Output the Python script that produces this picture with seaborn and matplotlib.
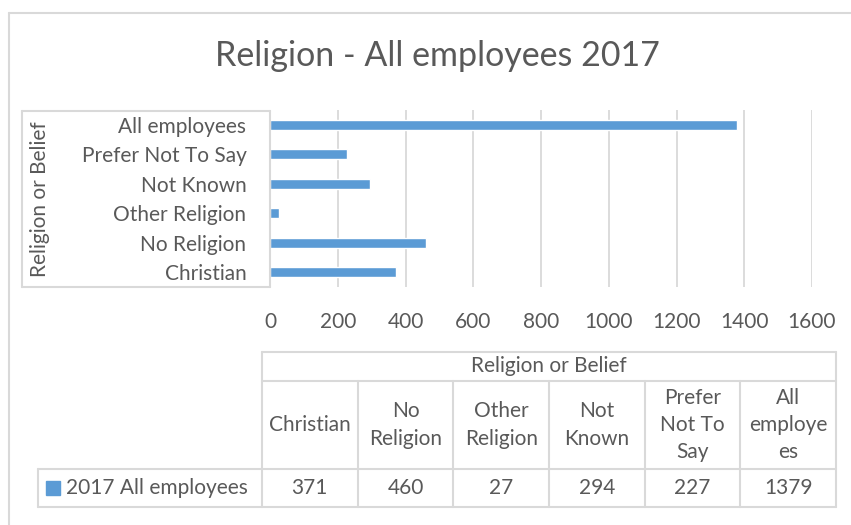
import matplotlib
matplotlib.use("Agg")
from matplotlib import pyplot as plt
from matplotlib.lines import Line2D
import seaborn as sns

# data, in the order of the data table
categories = ["Christian", "No Religion", "Other Religion", "Not Known",
              "Prefer Not To Say", "All employees"]
values = [371, 460, 27, 294, 227, 1379]
table_headers = ["Christian", "No\nReligion", "Other\nReligion", "Not\nKnown",
                 "Prefer\nNot To\nSay", "All\nemploye\nes"]
series_name = "2017 All employees"
x_ticks = [0, 200, 400, 600, 800, 1000, 1200, 1400, 1600]

sns.set_style("white")
plt.rcParams['font.family'] = ['Lato', 'DejaVu Sans']

W, H = 851, 525
bar_col = "#5B9BD5"
txt_col = "#595959"
line_col = "#D9D9D9"

fig = plt.figure(figsize=(W / 100, H / 100), dpi=100)


def fx(x):
    return x / W


def fy(y):
    return 1 - y / H


def hline(x0, x1, y, lw=1.5):
    fig.add_artist(Line2D([fx(x0), fx(x1)], [fy(y), fy(y)], color=line_col, lw=lw))


def vline(x, y0, y1, lw=1.5):
    fig.add_artist(Line2D([fx(x), fx(x)], [fy(y0), fy(y1)], color=line_col, lw=lw))


# plot area
px0, px1, py0, py1 = 270, 812, 110, 287
ax = fig.add_axes([fx(px0), fy(py1), fx(px1) - fx(px0), (py1 - py0) / H])

order = categories[::-1]
sns.barplot(x=values, y=categories, order=order, orient="h", color=bar_col,
            width=0.34, saturation=1, ax=ax)
ax.set_xlim(0, 1600)
ax.set_xticks(x_ticks)
ax.xaxis.grid(True, color=line_col, lw=1.3)
ax.set_axisbelow(True)
for s in ax.spines.values():
    s.set_visible(False)
ax.tick_params(axis="both", length=0, labelsize=15, labelcolor=txt_col)
ax.tick_params(axis="x", pad=18)
ax.tick_params(axis="y", pad=17)
ax.set_xlabel("")
ax.set_ylabel("")
fig.text(fx(40), fy(199), "Religion or Belief", rotation=90, ha="center",
         va="center", fontsize=15, color=txt_col)

fig.text(fx(437), fy(56), "Religion - All employees 2017", ha="center",
         va="center", fontsize=24.5, color=txt_col)

# outer chart border
hline(9, W, 13)
vline(9, 13, H)

# box around category labels
hline(22, px0, 111)
hline(22, px0, py1)
vline(22, 111, py1)
vline(px0, 111, py1)

# data table
tx0, tx1 = 262, 836
r0, r1, r2, r3 = 352, 381, 469, 507
ncol = len(categories)
cw = (tx1 - tx0) / ncol
hline(tx0, tx1, r0)
hline(tx0, tx1, r1)
hline(38, tx1, r2)
hline(38, tx1, r3)
vline(38, r2, r3)
for i in range(ncol + 1):
    vline(tx0 + i * cw, r0 if i in (0, ncol) else r1, r3)
fig.text(fx((tx0 + tx1) / 2), fy((r0 + r1) / 2), "Religion or Belief",
         ha="center", va="center", fontsize=15, color=txt_col)
for i, (h, v) in enumerate(zip(table_headers, values)):
    cx = tx0 + (i + 0.5) * cw
    fig.text(fx(cx), fy((r1 + r2) / 2), h, ha="center", va="center",
             fontsize=15, color=txt_col, linespacing=1.45)
    fig.text(fx(cx), fy((r2 + r3) / 2), str(v), ha="center", va="center",
             fontsize=15, color=txt_col)

# legend key in the table
fig.patches.append(plt.Rectangle((fx(46), fy(495)), 14 / W, 14 / H,
                                 transform=fig.transFigure, color=bar_col))
fig.text(fx(66), fy((r2 + r3) / 2), series_name, ha="left", va="center",
         fontsize=15, color=txt_col)

fig.savefig("out.png", dpi=100)
